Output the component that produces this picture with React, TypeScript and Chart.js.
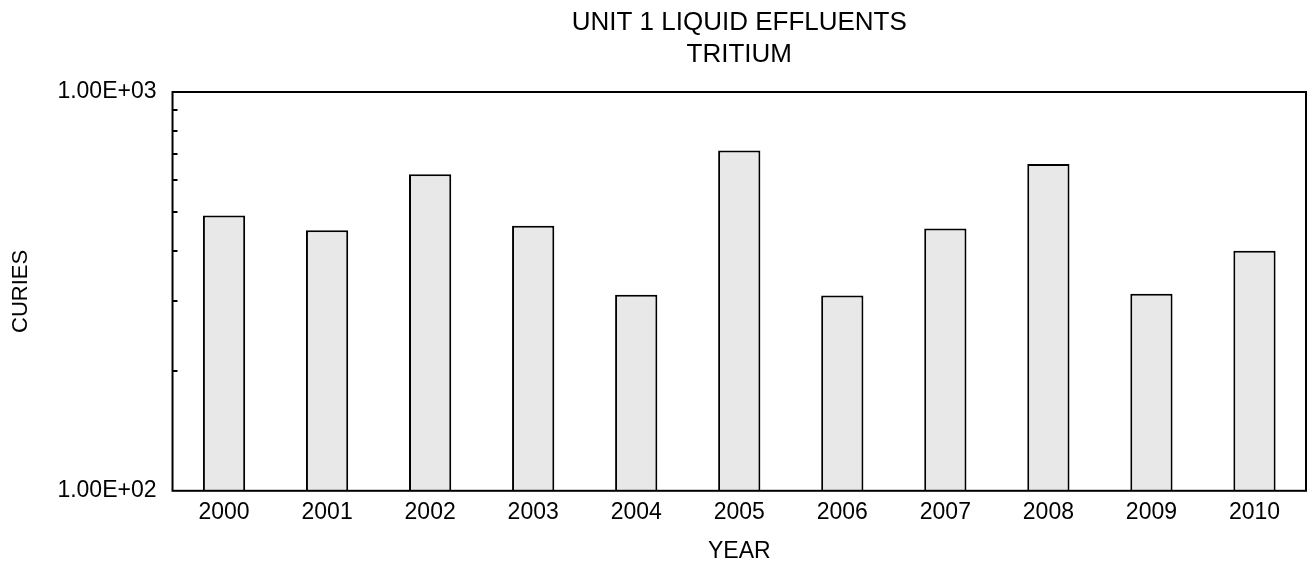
import { useEffect, useRef } from "react";
import { Chart, registerables } from "chart.js";

Chart.register(...registerables);

const years = ["2000", "2001", "2002", "2003", "2004", "2005", "2006", "2007", "2008", "2009", "2010"];
const curies = [490, 450, 622, 462, 310, 713, 309, 455, 660, 312, 400];
const titleLines = ["UNIT 1 LIQUID EFFLUENTS", "TRITIUM"];
const yAxisTitle = "CURIES";
const xAxisTitle = "YEAR";
const yMin = 100;
const yMax = 1000;
const minorTickValues = [200, 300, 400, 500, 600, 700, 800, 900];

const FONT = '"Liberation Sans", Arial, Helvetica, sans-serif';

function fmtExp(v: number): string {
  const e = Math.round(Math.log10(v));
  const m = v / Math.pow(10, e);
  return m.toFixed(2) + "E" + (e >= 0 ? "+" : "-") + String(Math.abs(e)).padStart(2, "0");
}

const framePlugin = {
  id: "frameAndTitle",
  afterDatasetsDraw(chart: any) {
    const { ctx, chartArea: a, scales } = chart;
    ctx.save();
    ctx.strokeStyle = "#000";
    ctx.lineWidth = 2;
    ctx.strokeRect(a.left, a.top, a.right - a.left, a.bottom - a.top);
    const ys = scales.y;
    ctx.lineWidth = 2;
    minorTickValues.forEach((v) => {
      const py = Math.round(ys.getPixelForValue(v));
      ctx.beginPath();
      ctx.moveTo(a.left, py);
      ctx.lineTo(a.left + 5, py);
      ctx.stroke();
    });
    ctx.fillStyle = "#000";
    ctx.font = `26px ${FONT}`;
    ctx.textAlign = "center";
    ctx.textBaseline = "middle";
    const cx = (a.left + a.right) / 2;
    titleLines.forEach((line, i) => ctx.fillText(line, cx, 23 + i * 32));
    ctx.restore();
  },
};

export default function App() {
  const ref = useRef<HTMLCanvasElement | null>(null);

  useEffect(() => {
    if (!ref.current) return;
    const chart = new Chart(ref.current, {
      type: "bar",
      data: {
        labels: years,
        datasets: [
          {
            data: curies,
            backgroundColor: "#e8e8e8",
            borderColor: "#000",
            borderWidth: 2,
            barPercentage: 0.41,
            categoryPercentage: 1,
          },
        ],
      },
      options: {
        animation: false,
        responsive: false,
        maintainAspectRatio: false,
        layout: { padding: { top: 92, right: 1, left: 0, bottom: 0 } },
        plugins: {
          legend: { display: false },
          title: { display: false },
          tooltip: { enabled: false },
        },
        scales: {
          x: {
            type: "category",
            offset: true,
            grid: { display: false, drawTicks: false },
            border: { display: false },
            ticks: {
              color: "#000",
              font: { family: FONT, size: 23 },
              padding: 8,
              maxRotation: 0,
              autoSkip: false,
            },
            title: {
              display: true,
              text: xAxisTitle,
              color: "#000",
              font: { family: FONT, size: 23 },
              padding: { top: 3, bottom: 0 },
            },
          },
          y: {
            type: "logarithmic",
            min: yMin,
            max: yMax,
            grid: { display: false, drawTicks: false },
            border: { display: false },
            ticks: {
              color: "#000",
              font: { family: FONT, size: 23 },
              padding: 16,
              autoSkip: false,
              callback: (v: any) => {
                const n = Number(v);
                return n === yMin || n === yMax ? fmtExp(n) : "";
              },
            },
            title: {
              display: true,
              text: yAxisTitle,
              color: "#000",
              font: { family: FONT, size: 22 },
              padding: { top: 8, bottom: 7 },
            },
          },
        },
      },
      plugins: [framePlugin],
    });
    return () => chart.destroy();
  }, []);

  return (
    <div style={{ position: "absolute", left: 0, top: 0, width: 1307, height: 565, background: "#fff" }}>
      <canvas ref={ref} width={1307} height={565} style={{ display: "block" }} />
    </div>
  );
}
